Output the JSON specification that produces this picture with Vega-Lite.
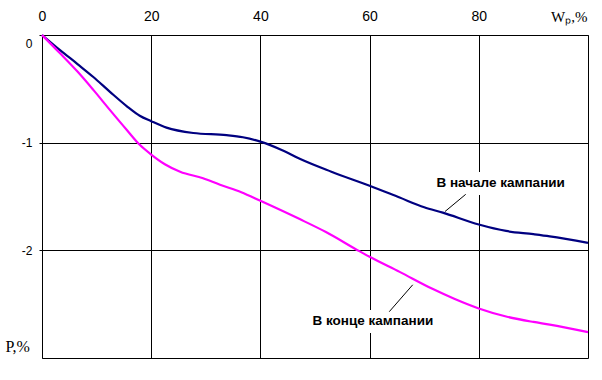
{
  "$schema": "https://vega.github.io/schema/vega-lite/v6.json",
  "width": 546,
  "height": 323,
  "autosize": {"type": "none"},
  "padding": {"left": 42, "top": 35, "right": 14, "bottom": 22},
  "background": "white",
  "config": {
    "view": {"stroke": "black", "strokeWidth": 1},
    "axis": {"labelFont": "Liberation Sans", "labelColor": "black", "titleColor": "black", "gridColor": "black", "gridOpacity": 1, "gridWidth": 1, "domain": false}
  },
  "datasets": {
    "curves": [
      {"W": 0, "P": 0, "s": "В начале кампании"},
      {"W": 3.3, "P": -0.14, "s": "В начале кампании"},
      {"W": 6.5, "P": -0.27, "s": "В начале кампании"},
      {"W": 9.4, "P": -0.39, "s": "В начале кампании"},
      {"W": 12.5, "P": -0.53, "s": "В начале кампании"},
      {"W": 15.5, "P": -0.66, "s": "В начале кампании"},
      {"W": 17.9, "P": -0.75, "s": "В начале кампании"},
      {"W": 20, "P": -0.8, "s": "В начале кампании"},
      {"W": 22.8, "P": -0.86, "s": "В начале кампании"},
      {"W": 27.7, "P": -0.91, "s": "В начале кампании"},
      {"W": 33.8, "P": -0.93, "s": "В начале кампании"},
      {"W": 36.8, "P": -0.95, "s": "В начале кампании"},
      {"W": 40, "P": -0.99, "s": "В начале кампании"},
      {"W": 44, "P": -1.07, "s": "В начале кампании"},
      {"W": 47.2, "P": -1.15, "s": "В начале кампании"},
      {"W": 53, "P": -1.27, "s": "В начале кампании"},
      {"W": 60, "P": -1.4, "s": "В начале кампании"},
      {"W": 65.5, "P": -1.51, "s": "В начале кампании"},
      {"W": 70, "P": -1.6, "s": "В начале кампании"},
      {"W": 73.4, "P": -1.65, "s": "В начале кампании"},
      {"W": 80, "P": -1.76, "s": "В начале кампании"},
      {"W": 85, "P": -1.82, "s": "В начале кампании"},
      {"W": 90, "P": -1.85, "s": "В начале кампании"},
      {"W": 93, "P": -1.87, "s": "В начале кампании"},
      {"W": 100, "P": -1.93, "s": "В начале кампании"},
      {"W": 0, "P": 0, "s": "В конце кампании"},
      {"W": 3.3, "P": -0.17, "s": "В конце кампании"},
      {"W": 6.5, "P": -0.34, "s": "В конце кампании"},
      {"W": 9.4, "P": -0.51, "s": "В конце кампании"},
      {"W": 12.5, "P": -0.7, "s": "В конце кампании"},
      {"W": 15.5, "P": -0.88, "s": "В конце кампании"},
      {"W": 17.9, "P": -1.02, "s": "В конце кампании"},
      {"W": 20, "P": -1.11, "s": "В конце кампании"},
      {"W": 22.5, "P": -1.2, "s": "В конце кампании"},
      {"W": 25.3, "P": -1.27, "s": "В конце кампании"},
      {"W": 29.5, "P": -1.33, "s": "В конце кампании"},
      {"W": 32.6, "P": -1.39, "s": "В конце кампании"},
      {"W": 36.5, "P": -1.46, "s": "В конце кампании"},
      {"W": 40, "P": -1.54, "s": "В конце кампании"},
      {"W": 47.2, "P": -1.71, "s": "В конце кампании"},
      {"W": 52, "P": -1.83, "s": "В конце кампании"},
      {"W": 58.2, "P": -2.01, "s": "В конце кампании"},
      {"W": 60, "P": -2.06, "s": "В конце кампании"},
      {"W": 65.5, "P": -2.2, "s": "В конце кампании"},
      {"W": 71.6, "P": -2.36, "s": "В конце кампании"},
      {"W": 75.5, "P": -2.45, "s": "В конце кампании"},
      {"W": 80, "P": -2.54, "s": "В конце кампании"},
      {"W": 85, "P": -2.615, "s": "В конце кампании"},
      {"W": 90, "P": -2.665, "s": "В конце кампании"},
      {"W": 93, "P": -2.69, "s": "В конце кампании"},
      {"W": 100, "P": -2.76, "s": "В конце кампании"}
    ],
    "labels": [
      {"W": 84, "P": -1.375, "label": "В начале кампании"},
      {"W": 60.6, "P": -2.653, "label": "В конце кампании"}
    ],
    "leaders": [
      {"W": 77.6, "P": -1.48, "W2": 73.8, "P2": -1.64},
      {"W": 67.9, "P": -2.32, "W2": 63.6, "P2": -2.57}
    ]
  },
  "layer": [
    {
      "data": {"name": "labels"},
      "mark": {"type": "text", "font": "Liberation Sans", "fontWeight": "bold", "fontSize": 13.5, "fill": "white", "stroke": "white", "strokeWidth": 16, "align": "center", "baseline": "middle"},
      "encoding": {
        "x": {"field": "W", "type": "quantitative", "scale": {"domain": [0, 100], "nice": false, "zero": false},
          "axis": {"orient": "top", "values": [0, 20, 40, 60, 80], "grid": true, "ticks": false, "tickSize": 0, "labelPadding": 12, "labelFontSize": 14, "labelFlush": false,
            "title": "Wₚ,%", "titleFont": "Liberation Serif", "titleFontSize": 15, "titleFontWeight": "normal", "titleAlign": "right", "titleAnchor": null, "titleX": 545, "titleY": -14, "titleBaseline": "alphabetic"}},
        "y": {"field": "P", "type": "quantitative", "scale": {"domain": [-3, 0], "nice": false, "zero": false},
          "axis": {"orient": "left", "values": [0, -1, -2], "grid": true, "ticks": true, "tickSize": 3, "tickColor": "black", "labelPadding": 7, "labelFontSize": 12, "labelFlush": true, "labelFlushOffset": -3,
            "labelExpr": "datum.value == 0 ? '0' : '-' + abs(datum.value)",
            "title": "Р,%", "titleFont": "Liberation Serif", "titleFontSize": 16, "titleFontWeight": "normal", "titleAngle": 0, "titleAlign": "left", "titleBaseline": "middle", "titleX": -37, "titleY": 311}},
        "text": {"field": "label"}
      }
    },
    {
      "data": {"name": "curves"},
      "mark": {"type": "line", "strokeWidth": 2.2, "interpolate": "monotone"},
      "encoding": {
        "x": {"field": "W", "type": "quantitative"},
        "y": {"field": "P", "type": "quantitative"},
        "color": {"field": "s", "type": "nominal", "scale": {"domain": ["В начале кампании", "В конце кампании"], "range": ["#000080", "#FF00FF"]}, "legend": null}
      }
    },
    {
      "data": {"name": "leaders"},
      "mark": {"type": "rule", "color": "black", "strokeWidth": 1},
      "encoding": {
        "x": {"field": "W", "type": "quantitative"},
        "y": {"field": "P", "type": "quantitative"},
        "x2": {"field": "W2"},
        "y2": {"field": "P2"}
      }
    },
    {
      "data": {"name": "labels"},
      "mark": {"type": "text", "font": "Liberation Sans", "fontWeight": "bold", "fontSize": 13.5, "color": "black", "align": "center", "baseline": "middle"},
      "encoding": {
        "x": {"field": "W", "type": "quantitative"},
        "y": {"field": "P", "type": "quantitative"},
        "text": {"field": "label"}
      }
    }
  ]
}
